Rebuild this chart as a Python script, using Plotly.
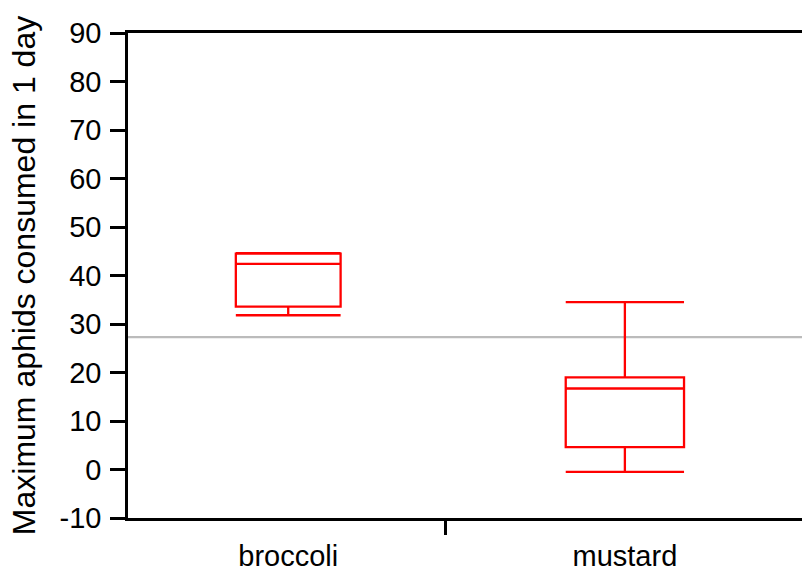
import plotly.graph_objects as go

categories = ["broccoli", "mustard"]
positions = [0.237, 0.735]          # category centers on the x axis
box_widths = [0.155, 0.175]
divider = 0.470
lower = [31.8, -0.5]
q1 = [33.6, 4.6]
median = [42.4, 16.7]
q3 = [44.5, 19.0]
upper = [44.6, 34.5]
grand_mean = 27.3
y_ticks = list(range(-10, 91, 10))
y_tick_labels = [str(v) for v in y_ticks]

fig = go.Figure()
for i, c in enumerate(categories):
    fig.add_trace(go.Box(
        x=[positions[i]], q1=[q1[i]], median=[median[i]], q3=[q3[i]],
        lowerfence=[lower[i]], upperfence=[upper[i]],
        width=box_widths[i], whiskerwidth=1, name=c,
        line=dict(color="#ff0000", width=2.3), fillcolor="rgba(0,0,0,0)",
        boxpoints=False, hoverinfo="skip", showlegend=False,
    ))

fig.add_hline(y=grand_mean, line=dict(color="#bbbbbb", width=2.2), layer="below")

font = dict(family="Liberation Sans, Arial, sans-serif", size=29, color="black")
fig.update_layout(
    width=802, height=573,
    margin=dict(l=128, r=0, t=33, b=55),
    paper_bgcolor="white", plot_bgcolor="white",
    font=font,
    xaxis=dict(
        range=[0, 0.997], showline=True, linecolor="black", linewidth=2.5, mirror=True,
        tickvals=positions, ticktext=categories, ticks="", showgrid=False, zeroline=False,
        ticklabelstandoff=10,
        minor=dict(tickvals=[divider], ticks="outside", ticklen=14, tickwidth=2.5,
                   tickcolor="black", showgrid=False),
    ),
    yaxis=dict(
        range=[-10, 90], tickvals=y_ticks, ticktext=y_tick_labels, ticks="outside",
        ticklen=15, tickwidth=2.5,
        tickcolor="black", showline=True, linecolor="black", linewidth=2.5,
        showgrid=False, zeroline=False, ticklabelstandoff=3,
        title=dict(text="Maximum aphids consumed in 1 day", standoff=15,
                   font=dict(size=32)),
    ),
)
fig.write_html("out.html")
